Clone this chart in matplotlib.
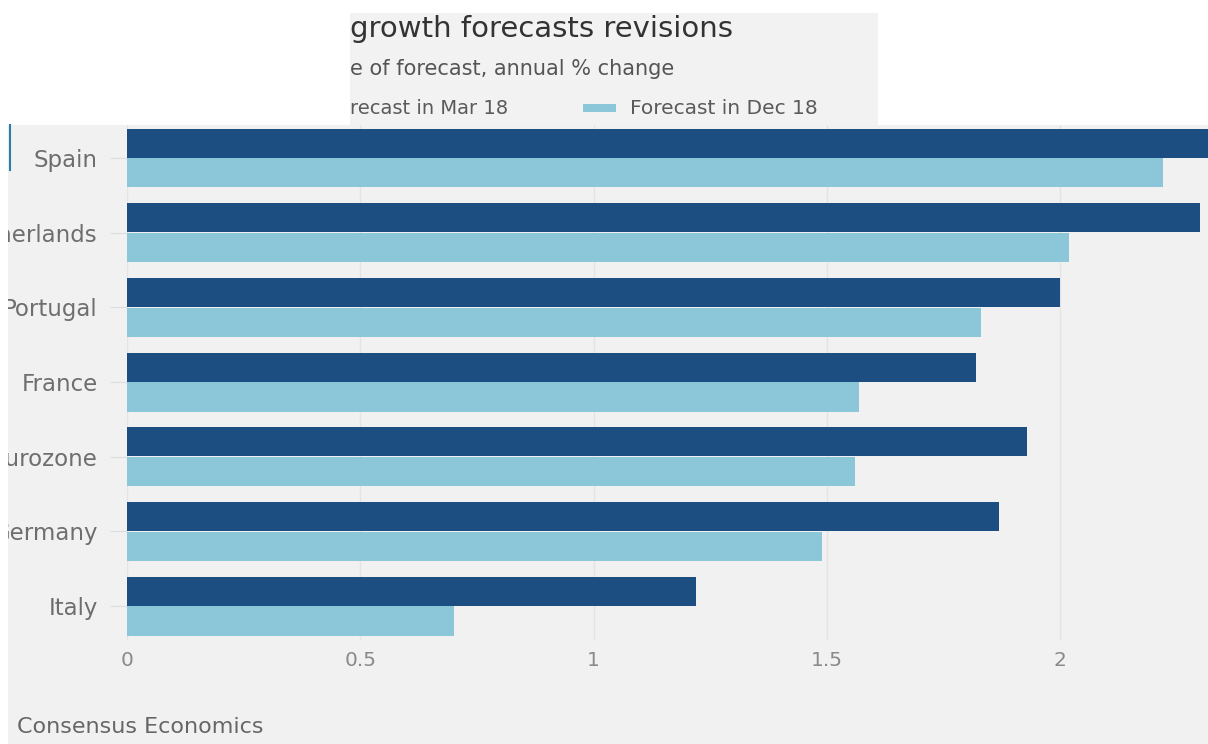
import matplotlib
matplotlib.use("Agg")
import matplotlib.pyplot as plt
from matplotlib.patches import Rectangle
from matplotlib.lines import Line2D
import numpy as np

# data (Spain Mar 18 bar runs past the right edge)
countries = ["Spain", "Netherlands", "Portugal", "France", "Eurozone", "Germany", "Italy"]
forecast_mar18 = [2.40, 2.30, 2.00, 1.82, 1.93, 1.87, 1.22]
forecast_dec18 = [2.22, 2.02, 1.83, 1.57, 1.56, 1.49, 0.70]
xticks = [0, 0.5, 1, 1.5, 2]
xtick_labels = ["0", "0.5", "1", "1.5", "2"]

dark_blue = "#1d4e82"
light_blue = "#8cc6d9"
bg = "#f1f1f1"
font = "DejaVu Sans"

W, H = 1208, 744
fig = plt.figure(figsize=(W / 100, H / 100), dpi=100)
fig.patch.set_facecolor("white")

# grey panels behind the (cropped) screenshot
fig.patches.append(Rectangle((8 / W, 0), 1 - 8 / W, (H - 125) / H, transform=fig.transFigure,
                             facecolor=bg, edgecolor="none", zorder=-10))
fig.patches.append(Rectangle((350 / W, (H - 125) / H), (878 - 350) / W, (125 - 13) / H,
                             transform=fig.transFigure, facecolor="#f2f2f2", edgecolor="none", zorder=-10))

ax = fig.add_axes([127 / W, (H - 640) / H, (W - 127) / W, (640 - 125) / H])
ax.set_facecolor("none")

y = np.arange(len(countries))
ax.barh(y - 0.2, forecast_mar18, height=0.39, color=dark_blue, zorder=3)
ax.barh(y + 0.2, forecast_dec18, height=0.39, color=light_blue, zorder=3)

ax.set_xlim(0, (W - 127) / 466.5)
ax.set_ylim(6.455, -0.442)
ax.set_xticks(xticks)
ax.set_xticklabels(xtick_labels)
ax.set_yticks(y)
ax.set_yticklabels(countries)
ax.grid(axis="x", color="#e4e4e4", linewidth=1, zorder=0)
for s in ax.spines.values():
    s.set_visible(False)
ax.tick_params(axis="x", length=0, pad=8, labelsize=14.5, labelcolor="#8a8a8a")
ax.tick_params(axis="y", length=12, width=0.8, color="#dddddd", pad=9, labelsize=16.5, labelcolor="#6e6e6e")
for t in ax.get_xticklabels() + ax.get_yticklabels():
    t.set_family(font)

# header texts (left part cut off in the screenshot)
fig.text(350 / W, 1 - 29 / H, "growth forecasts revisions", fontsize=21, color="#333333",
         family=font, va="center", ha="left")
fig.text(350 / W, 1 - 69 / H, "e of forecast, annual % change", fontsize=15, color="#555555",
         family=font, va="center", ha="left")
fig.text(350 / W, 1 - 108 / H, "recast in Mar 18", fontsize=14, color="#5a5a5a",
         family=font, va="center", ha="left")
fig.patches.append(Rectangle((583 / W, 1 - 112 / H), 33 / W, 8 / H, transform=fig.transFigure,
                             facecolor=light_blue, edgecolor="none"))
fig.text(630 / W, 1 - 108 / H, "Forecast in Dec 18", fontsize=14.5, color="#5a5a5a",
         family=font, va="center", ha="left")

fig.text(17 / W, 1 - 727 / H, "Consensus Economics", fontsize=16, color="#666666",
         family=font, va="center", ha="left")

# white strip on the left edge and the small accent line
fig.patches.append(Rectangle((0, 0), 8 / W, (H - 125) / H, transform=fig.transFigure,
                             facecolor="white", edgecolor="none", zorder=20))
fig.lines.append(Line2D([9.5 / W, 9.5 / W], [1 - 125 / H, 1 - 170 / H], transform=fig.transFigure,
                        color="#2a7fa8", linewidth=1.5, zorder=21))

fig.savefig("out.png", dpi=100, facecolor=fig.get_facecolor())
